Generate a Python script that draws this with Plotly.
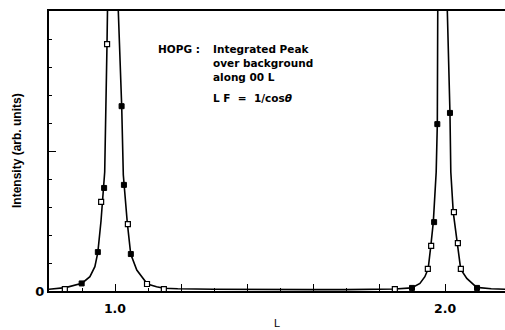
import plotly.graph_objects as go

# Fitted curve
curve_L = [0.80, 0.85, 0.90, 0.924, 0.939, 0.948, 0.9576, 0.966, 0.9688, 0.9758, 0.9797, 0.987, 0.9945,
           1.002, 1.010, 1.0203, 1.0252, 1.0273, 1.0373, 1.0476, 1.066, 1.0979, 1.126, 1.148, 1.19,
           1.30, 1.40, 1.50, 1.60, 1.70, 1.803, 1.848, 1.899, 1.924, 1.939, 1.949, 1.957, 1.9645,
           1.9733, 1.9767, 1.978, 1.985, 1.9925, 2.000, 2.007, 2.015, 2.0176, 2.025, 2.037, 2.0476,
           2.066, 2.096, 2.140, 2.182]
curve_I = [0.06, 0.12, 0.28, 0.51, 0.87, 1.38, 2.5, 3.68, 4.25, 8.82, 10.0, 18.0, 32.0,
           18.0, 10.0, 6.6, 4.14, 3.79, 2.43, 1.32, 0.75, 0.25, 0.15, 0.10, 0.08,
           0.06, 0.05, 0.05, 0.05, 0.05, 0.05, 0.07, 0.11, 0.27, 0.51, 0.79, 1.61, 2.45,
           4.25, 5.96, 10.0, 17.0, 30.0, 17.0, 10.0, 6.36, 4.25, 2.81, 1.72, 0.78,
           0.45, 0.13, 0.08, 0.06]

# Measured points (filled and open symbols)
filled_L = [0.899, 0.948, 0.967, 1.020, 1.027, 1.048, 1.900, 1.967, 1.9767, 2.015, 2.097]
filled_I = [0.27, 1.39, 3.68, 6.6, 3.79, 1.32, 0.11, 2.46, 5.96, 6.36, 0.11]
open_L = [0.848, 0.958, 0.976, 1.039, 1.097, 1.148, 1.848, 1.948, 1.958, 2.027, 2.039, 2.048]
open_I = [0.07, 3.18, 8.82, 2.39, 0.25, 0.07, 0.07, 0.79, 1.61, 2.82, 1.71, 0.79]

x_tickvals = [0.8, 1.0, 1.2, 1.4, 1.6, 1.8, 2.0]
x_ticktext = ["", "1.0", "", "", "", "", "2.0"]
y_tickvals = [0, 5, 10]
y_ticktext = ["0", "", ""]

text_lines = ["Integrated Peak", "over background", "along 00 L"]

fig = go.Figure()
fig.add_trace(go.Scatter(x=curve_L, y=curve_I, mode="lines",
                         line=dict(color="black", width=1.6), hoverinfo="skip"))
fig.add_trace(go.Scatter(x=filled_L, y=filled_I, mode="markers",
                         marker=dict(symbol="square", size=5, color="black",
                                     line=dict(color="black", width=1))))
fig.add_trace(go.Scatter(x=open_L, y=open_I, mode="markers",
                         marker=dict(symbol="square", size=5, color="white",
                                     line=dict(color="black", width=1.2))))

font_family = "Liberation Sans, Arial, sans-serif"
wide_family = "DejaVu Sans, Verdana, sans-serif"
ann = []
ann.append(dict(text="Intensity (arb. units)", xref="paper", yref="paper", x=0, y=0.5,
                xshift=-32, textangle=-90, showarrow=False, xanchor="center", yanchor="middle",
                font=dict(size=12, color="black", family=font_family, weight="bold")))
ann.append(dict(text="L", xref="paper", yref="paper", x=0.5, y=0, yshift=-32,
                showarrow=False, xanchor="center", yanchor="middle",
                font=dict(size=11, color="black", family=font_family, weight="normal")))
ann.append(dict(text="HOPG :", xref="x", yref="y", x=1.124, y=8.64, showarrow=False,
                xanchor="left", yanchor="middle",
                font=dict(size=10.5, color="black", family=wide_family, weight="bold")))
for i, (t, yy) in enumerate(zip(text_lines, [8.64, 8.14, 7.64])):
    ann.append(dict(text=t, xref="x", yref="y", x=1.291, y=yy, showarrow=False,
                    xanchor="left", yanchor="middle",
                    font=dict(size=10.5, color="black", family=wide_family, weight="bold")))
ann.append(dict(text="L F&nbsp;&nbsp;=&nbsp;&nbsp;1/cos<i>θ</i>", xref="x", yref="y", x=1.291, y=6.89,
                showarrow=False, xanchor="left", yanchor="middle",
                font=dict(size=10.5, color="black", family=wide_family, weight="bold")))

fig.update_layout(
    width=505, height=330,
    margin=dict(l=49, r=0, t=11, b=39),
    plot_bgcolor="white", paper_bgcolor="white",
    showlegend=False,
    font=dict(family=font_family, color="black", size=12),
    annotations=ann,
    xaxis=dict(range=[0.8, 2.1818], showgrid=False, zeroline=False,
               showline=True, linecolor="black", linewidth=2, mirror=True,
               tickmode="array", tickvals=x_tickvals, ticktext=x_ticktext,
               ticks="inside", ticklen=7, tickwidth=1.2, tickcolor="black",
               ticklabelstandoff=5,
               tickfont=dict(size=12.5, family=wide_family, weight="bold"),
               minor=dict(dtick=0.1, tick0=0.8, ticks="inside", ticklen=3, tickwidth=1.2,
                          tickcolor="black", showgrid=False)),
    yaxis=dict(range=[0, 10], showgrid=False, zeroline=False,
               showline=True, linecolor="black", linewidth=2,
               tickmode="array", tickvals=y_tickvals, ticktext=y_ticktext,
               ticks="inside", ticklen=7, tickwidth=1.2, tickcolor="black",
               tickfont=dict(size=13, family=wide_family, weight="bold"),
               minor=dict(dtick=1, tick0=0, ticks="inside", ticklen=3, tickwidth=1.2,
                          tickcolor="black", showgrid=False)),
)

fig.write_html("out.html")
